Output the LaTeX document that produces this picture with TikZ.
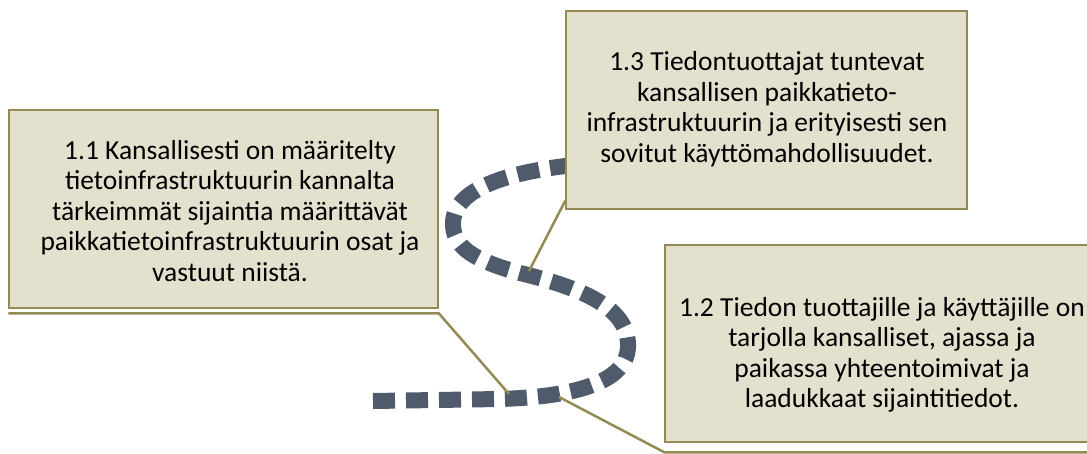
\documentclass[tikz,border=0pt]{standalone}
\usepackage{fontspec}
\setmainfont{Carlito}
\usetikzlibrary{calc}
\definecolor{boxline}{HTML}{948A54}
\definecolor{boxfill}{HTML}{E3E0CE}
\definecolor{trailgrey}{HTML}{4F5A6B}

\begin{document}
\begin{tikzpicture}[x=1pt,y=-1pt]
    \tikzset{%
      box/.style={rectangle, draw=boxline, fill=boxfill, line width=1.5pt,
        inner sep=0pt},
      txt/.style={align=center, inner sep=0pt,
        font=\fontsize{27.5}{30.5}\selectfont},
      callout/.style={draw=boxline, line width=2.5pt},
      trail/.style={draw=trailgrey, line width=16pt,
        dash pattern=on 22pt off 11pt},
    }
    \useasboundingbox (0,0) rectangle (1087,453);

    % the winding road
    \coordinate (S0) at (373,401);
    \coordinate (S1) at (628,343);
    \coordinate (S2) at (520,273);
    \coordinate (S3) at (453,222);
    \coordinate (S4) at (610,162);
    \draw [trail] (S0) -- (500,399) .. controls (600,396) and (630,372) .. (S1)
      .. controls (626,310) and (590,290) .. (S2)
      .. controls (472,260) and (452,246) .. (S3)
      .. controls (455,188) and (510,168) .. (S4);

    \node[box, minimum width=429pt, minimum height=198pt] (T1) at (223.5,209) {};
    \node[box, minimum width=401pt, minimum height=198pt] (T3) at (766.5,110) {};
    \node[box, minimum width=435pt, minimum height=197pt] (T2) at (882.5,343.5) {};

    \coordinate (P1) at (509,394);
    \coordinate (P2) at (559,397);
    \coordinate (P3) at (529,271);
    \draw [callout] (P1) -- ($(T1.south east)+(0,4.5)$) -- ($(T1.south west)+(0,4.5)$);
    \draw [callout] (P2) -- ($(T2.south west)+(0,9.5)$) -- ($(T2.south east)+(0,9.5)$);
    \draw [callout] (P3) -- ($(T3.south west)+(0,-9)$);

    \node[txt] (L1) at (230,211) {1.1 Kansallisesti on määritelty\\
      tietoinfrastruktuurin kannalta\\
      tärkeimmät sijaintia määrittävät\\
      paikkatietoinfrastruktuurin osat ja\\
      vastuut niistä.};
    \node[txt] (L3) at (767,109) {1.3 Tiedontuottajat tuntevat\\
      kansallisen paikkatieto-\\
      infrastruktuurin ja erityisesti sen\\
      sovitut käyttömahdollisuudet.};
    \node[txt] (L2) at (882,355) {1.2 Tiedon tuottajille ja käyttäjille on\\
      tarjolla kansalliset, ajassa ja\\
      paikassa yhteentoimivat ja\\
      laadukkaat sijaintitiedot.};
\end{tikzpicture}
\end{document}
